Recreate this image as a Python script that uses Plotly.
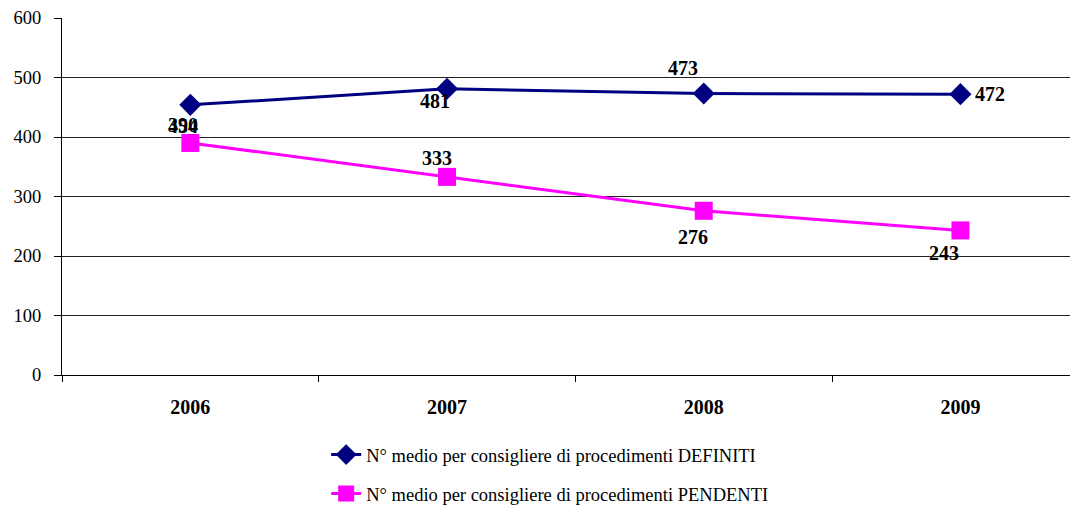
import plotly.graph_objects as go

years = ["2006", "2007", "2008", "2009"]
definiti = [454, 481, 473, 472]
pendenti = [390, 333, 276, 243]
name_def = "N° medio per consigliere di procedimenti DEFINITI"
name_pen = "N° medio per consigliere di procedimenti PENDENTI"

# label offsets in pixels (style only)
def_dx = [-7, -12, -21, 30]
def_dy = [-21, -12, 26, 0]
pen_dx = [-7, -10, -11, -16]
pen_dy = [18, 19, -26, -23]

font_family = "Liberation Serif, Times New Roman, serif"
label_font = dict(family=font_family, size=20, color="black", weight="bold")

fig = go.Figure()
fig.add_trace(go.Scatter(
    x=years, y=definiti, name=name_def, mode="lines+markers",
    line=dict(color="#000080", width=3),
    marker=dict(symbol="diamond", size=17, color="#000080"),
    legendgroup="a", cliponaxis=False,
))
fig.add_trace(go.Scatter(
    x=years, y=pendenti, name=name_pen, mode="lines+markers",
    line=dict(color="#FF00FF", width=3),
    marker=dict(symbol="square", size=18, color="#FF00FF"),
    legendgroup="b", cliponaxis=False,
))

for vals, dxs, dys in ((definiti, def_dx, def_dy), (pendenti, pen_dx, pen_dy)):
    for i, (yv, dx, dy) in enumerate(zip(vals, dxs, dys)):
        # category axis: position by category index
        fig.add_annotation(x=i, y=yv, xref="x", yref="y", text=str(yv), showarrow=False,
                           xanchor="center", yanchor="middle",
                           xshift=dx, yshift=dy, font=label_font)

fig.update_layout(
    width=1078, height=520,
    margin=dict(l=54, r=8, t=10, b=153),
    paper_bgcolor="white", plot_bgcolor="white",
    font=dict(family=font_family, size=18.5, color="black"),
    showlegend=True,
    legend=dict(x=0.26, y=-0.171, xanchor="left", yanchor="top",
                orientation="v", traceorder="grouped", tracegroupgap=12,
                font=dict(family=font_family, size=18.5, color="black")),
    xaxis=dict(type="category", range=[-0.5, 3.458], automargin=False,
               showline=True, linecolor="black", linewidth=1,
               ticks="outside", ticklen=6, tickcolor="black", tickson="boundaries",
               ticklabelstandoff=14, showgrid=False,
               tickfont=dict(family=font_family, size=20, color="black", weight="bold")),
    yaxis=dict(range=[0, 600], dtick=100, automargin=False,
               showline=True, linecolor="black", linewidth=1,
               ticks="outside", ticklen=7, tickcolor="black", ticklabelstandoff=9,
               showgrid=True, gridcolor="#222222", gridwidth=1, zeroline=False,
               tickfont=dict(family=font_family, size=18.5, color="black")),
)

fig.write_html("out.html")
